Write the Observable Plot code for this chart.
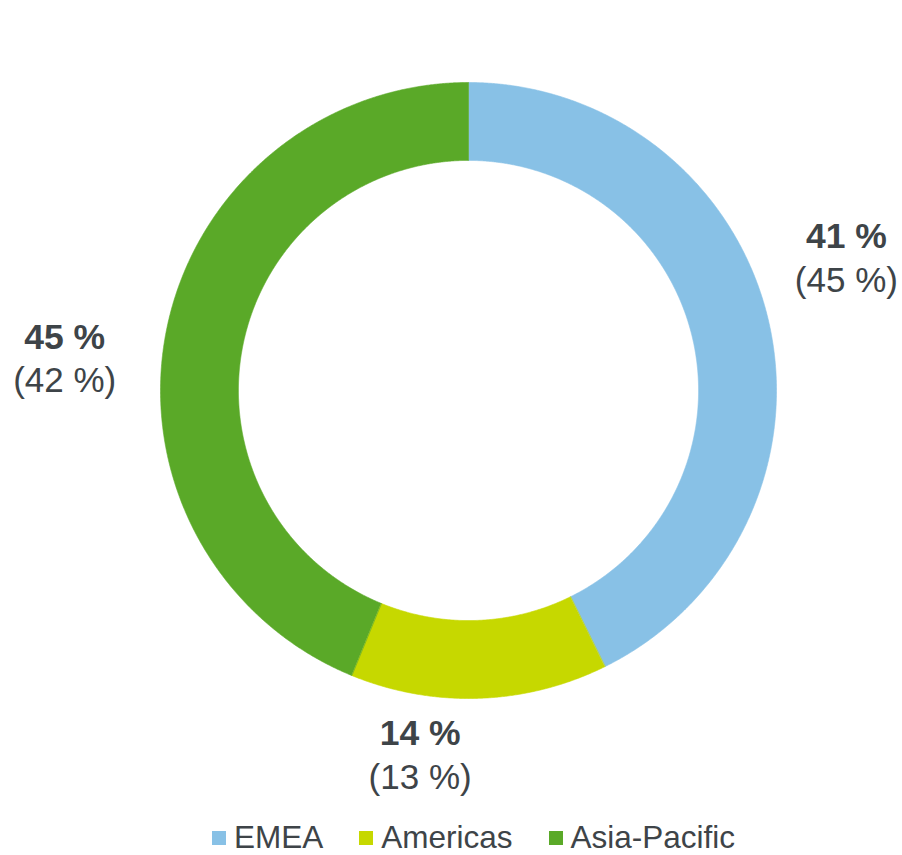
<!DOCTYPE html>
<html>
<head>
<meta charset="utf-8">
<script src="https://cdn.jsdelivr.net/npm/d3@7"></script>
<script src="https://cdn.jsdelivr.net/npm/@observablehq/plot@0.6"></script>
<style>
  html, body { margin: 0; padding: 0; background: #fff; }
  body { font-family: "Liberation Sans", Arial, sans-serif; color: #3e4448; }
  #chart svg { display: block; }
  .legend { display: flex; align-items: center; height: 43px; padding-top: 8px; padding-left: 212px; box-sizing: border-box; font-size: 31.5px; }
  .legend .item { display: flex; align-items: center; margin-right: 36px; }
  .legend .sw { width: 14px; height: 14px; margin-right: 8px; }
</style>
</head>
<body>
<div id="chart"></div>
<script>
// ---- data ----
const regions = ["EMEA", "Americas", "Asia-Pacific"];
const shares = [42.7, 13.5, 43.8];            // slice sizes as drawn in the ring
const labelCurrent = ["41 %", "14 %", "45 %"]; // bold labels
const labelPrior = ["(45 %)", "(13 %)", "(42 %)"]; // labels in brackets
const colors = ["#88c1e6", "#c6d800", "#5aa928"];

// ---- layout ----
const W = 902, H = 812;
const cx = 468, cy = 390, Rpx = 308;
const inner = 0.747;

const total = d3.sum(shares);
let cum = 0;
const slices = regions.map((r, i) => {
  const a0 = cum / total * 360;
  cum += shares[i];
  const a1 = cum / total * 360;
  return {region: r, a0, a1, mid: (a0 + a1) / 2, cur: labelCurrent[i], prior: labelPrior[i]};
});

const rad = a => a * Math.PI / 180;
const pts = [];
for (const s of slices) {
  const n = Math.max(2, Math.ceil((s.a1 - s.a0) / 0.25));
  for (let k = 0; k <= n; k++) {
    const a = s.a0 + (s.a1 - s.a0) * k / n;
    pts.push({region: s.region, x: Math.sin(rad(a)), y: Math.cos(rad(a))});
  }
  for (let k = n; k >= 0; k--) {
    const a = s.a0 + (s.a1 - s.a0) * k / n;
    pts.push({region: s.region, x: inner * Math.sin(rad(a)), y: inner * Math.cos(rad(a))});
  }
}

// label anchors: along the slice's mid-angle, with per-label nudges (px)
const labelR = 1.28;
const nudge = {"EMEA": [-6, -42], "Americas": [-62, -29], "Asia-Pacific": [-17, 45]};
const labels = slices.map(s => ({
  ...s,
  x: labelR * Math.sin(rad(s.mid)),
  y: labelR * Math.cos(rad(s.mid)),
  dx: nudge[s.region][0],
  dy: nudge[s.region][1]
}));

const textMarks = [];
for (const l of labels) {
  textMarks.push(Plot.text([l], {x: "x", y: "y", text: "cur", dx: l.dx, dy: l.dy - 22,
    fontSize: 35.5, fontWeight: "bold", fill: "#3e4448", fontFamily: "Liberation Sans, Arial, sans-serif"}));
  textMarks.push(Plot.text([l], {x: "x", y: "y", text: "prior", dx: l.dx, dy: l.dy + 22,
    fontSize: 35, fill: "#3e4448", fontFamily: "Liberation Sans, Arial, sans-serif"}));
}

const plot = Plot.plot({
  width: W,
  height: H,
  margin: 0,
  x: {domain: [-cx / Rpx, (W - cx) / Rpx], axis: null},
  y: {domain: [-(H - cy) / Rpx, cy / Rpx], axis: null},
  color: {domain: regions, range: colors},
  marks: [
    Plot.line(pts, {x: "x", y: "y", z: "region", fill: "region", stroke: "region", strokeWidth: 0.6, curve: "linear-closed"}),
    ...textMarks
  ]
});

const chart = document.getElementById("chart");
chart.appendChild(plot);

const legend = document.createElement("div");
legend.className = "legend";
regions.forEach((r, i) => {
  const item = document.createElement("div");
  item.className = "item";
  const sw = document.createElement("div");
  sw.className = "sw";
  sw.style.background = plot.scale("color").apply(r);
  const t = document.createElement("span");
  t.textContent = r;
  item.appendChild(sw);
  item.appendChild(t);
  legend.appendChild(item);
});
chart.appendChild(legend);
</script>
</body>
</html>
